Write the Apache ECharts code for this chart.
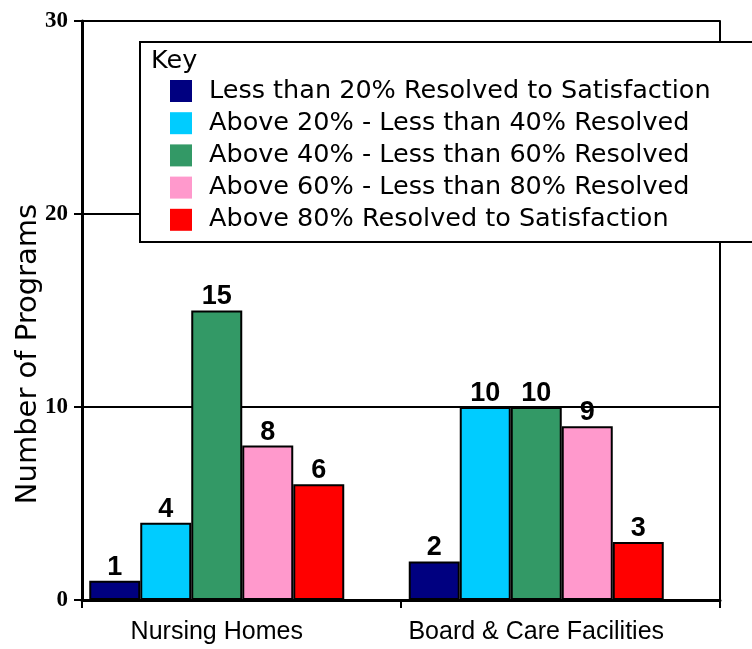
<!DOCTYPE html>
<html>
<head>
<meta charset="utf-8">
<style>
  html, body { margin: 0; padding: 0; background: #fff; }
  #chart { width: 752px; height: 649px; }
</style>
<script src="https://cdn.jsdelivr.net/npm/echarts@6/dist/echarts.min.js"></script>
</head>
<body>
<div id="chart"></div>
<script>
// 数据
const categories = ['Nursing Homes', 'Board & Care Facilities'];
const seriesNames = [
  'Less than 20% Resolved to Satisfaction',
  'Above 20% - Less than 40% Resolved',
  'Above 40% - Less than 60% Resolved',
  'Above 60% - Less than 80% Resolved',
  'Above 80% Resolved to Satisfaction'
];
const lessThan20 = [1, 2];
const from20to40 = [4, 10];
const from40to60 = [15, 10];
const from60to80 = [8, 9];
const above80 = [6, 3];
const yTicks = [0, 10, 20, 30];

const colors = ['#000080', '#00CCFF', '#339966', '#FF99CC', '#FF0000'];
const values = [lessThan20, from20to40, from40to60, from60to80, above80];

const chart = echarts.init(document.getElementById('chart'));

const series = values.map((v, i) => ({
  name: seriesNames[i],
  type: 'bar',
  xAxisIndex: 1,
  yAxisIndex: 1,
  data: v,
  barWidth: 51,
  barGap: '0%',
  itemStyle: { color: colors[i], borderColor: '#000', borderWidth: 2 },
  label: {
    show: true,
    position: 'top',
    distance: 0,
    color: '#000',
    fontFamily: 'Liberation Sans',
    fontWeight: 'bold',
    fontSize: 27
  }
}));

const option = {
  backgroundColor: '#fff',
  animation: false,
  grid: [
    { left: 82, right: 32, top: 21, bottom: 49 },
    { left: 57, right: 56, top: 21, bottom: 49 }
  ],
  xAxis: [
    {
      type: 'category', gridIndex: 0, data: ['', ''],
      axisLine: { lineStyle: { color: '#000', width: 3 } },
      axisTick: { show: true, length: 8, lineStyle: { color: '#000', width: 2 } },
      axisLabel: { show: false }
    },
    {
      type: 'category', gridIndex: 1, data: categories,
      axisLine: { show: false },
      axisTick: { show: false },
      axisLabel: {
        interval: 0, hideOverlap: false,
        margin: 20, color: '#000',
        fontFamily: 'Liberation Sans', fontSize: 25
      }
    }
  ],
  yAxis: [
    {
      type: 'value', gridIndex: 0, min: yTicks[0], max: yTicks[yTicks.length - 1], interval: 10,
      axisLine: { show: true, lineStyle: { color: '#000', width: 3 } },
      axisTick: { show: true, length: 8, lineStyle: { color: '#000', width: 2 } },
      splitLine: { show: true, lineStyle: { color: '#000', width: 2 } },
      axisLabel: {
        margin: 14, color: '#000',
        fontFamily: 'Liberation Serif', fontWeight: 'bold', fontSize: 23
      }
    },
    {
      type: 'value', gridIndex: 1, min: 0, max: 30, interval: 10,
      axisLine: { show: false }, axisTick: { show: false },
      splitLine: { show: false }, axisLabel: { show: false }
    },
    {
      type: 'value', gridIndex: 0, position: 'right', min: 0, max: 30, interval: 10,
      axisLine: { show: true, lineStyle: { color: '#000', width: 2 } },
      axisTick: { show: false }, splitLine: { show: false }, axisLabel: { show: false }
    }
  ],
  legend: {
    data: seriesNames,
    orient: 'vertical',
    left: 170,
    top: 78,
    padding: 0,
    z: 60,
    icon: 'rect',
    itemWidth: 22,
    itemHeight: 22,
    itemGap: 6.2,
    selectedMode: false,
    itemStyle: { borderWidth: 0 },
    textStyle: {
      color: '#000', fontFamily: 'DejaVu Sans', fontSize: 25.5,
      padding: [0, 0, 0, 12]
    }
  },
  graphic: [
    {
      type: 'rect', z: 50,
      shape: { x: 140, y: 42, width: 700, height: 200 },
      style: { fill: '#fff', stroke: '#000', lineWidth: 2 }
    },
    {
      type: 'text', z: 55, left: 151, top: 48,
      style: { text: 'Key', fill: '#000', font: '25.5px "DejaVu Sans"' }
    },
    {
      type: 'text', z: 55, x: 28, y: 354, rotation: Math.PI / 2,
      style: {
        text: 'Number of Programs', fill: '#000',
        font: '29px "DejaVu Sans"', align: 'center', verticalAlign: 'middle'
      }
    }
  ],
  series: series
};

chart.setOption(option);
window.addEventListener('resize', () => chart.resize());
</script>
</body>
</html>
